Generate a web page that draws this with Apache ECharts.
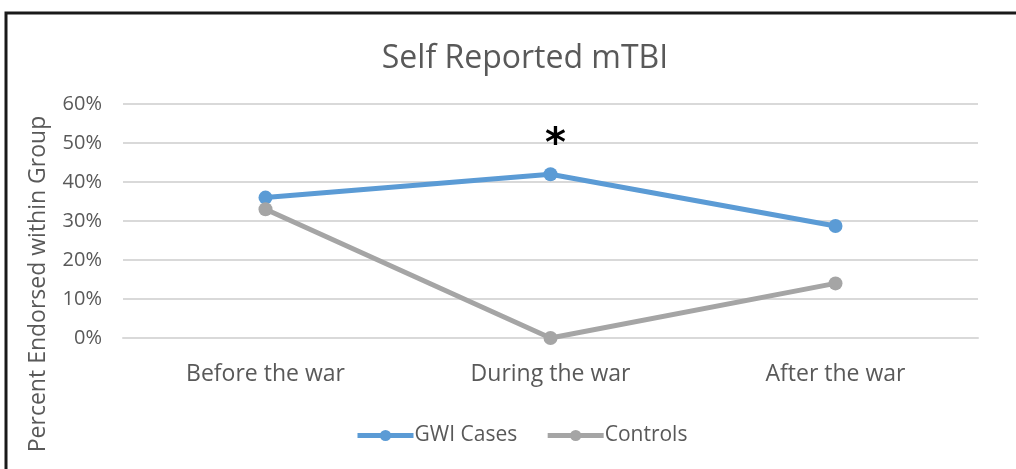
<!DOCTYPE html>
<html>
<head>
<meta charset="utf-8">
<script src="https://cdn.jsdelivr.net/npm/echarts@6/dist/echarts.min.js"></script>
<style>
  html, body { margin: 0; padding: 0; background: #fff; }
  #chart { width: 1016px; height: 469px; }
</style>
</head>
<body>
<div id="chart"></div>
<script>
var categories = ["Before the war", "During the war", "After the war"];
var gwiCases = [36, 42, 28.7];
var controls = [33, 0, 14];
var yTicks = [0, 10, 20, 30, 40, 50, 60];

var chartDom = document.getElementById("chart");
var myChart = echarts.init(chartDom);
var font = "'Open Sans', Lato, sans-serif";

var option = {
  animation: false,
  title: {
    text: "Self Reported mTBI",
    left: 520,
    top: 38,
    textAlign: "center",
    textStyle: { fontFamily: font, fontSize: 32, fontWeight: "normal", color: "#595959" }
  },
  graphic: [
    {
      type: "rect",
      shape: { x: 6, y: 13, width: 1030, height: 480 },
      style: { fill: "none", stroke: "#1a1a1a", lineWidth: 3 }
    },
    {
      type: "text",
      x: 38,
      y: 284,
      rotation: Math.PI / 2,
      style: {
        text: "Percent Endorsed within Group",
        fontFamily: font,
        fontSize: 23,
        fill: "#595959",
        align: "center",
        verticalAlign: "middle"
      }
    }
  ],
  legend: {
    bottom: 18,
    left: 350,
    itemWidth: 56,
    itemHeight: 14,
    itemGap: 28,
    lineStyle: { width: 5 },
    textStyle: { fontFamily: font, fontSize: 21, color: "#595959", padding: [0, 0, 0, -4] },
    data: ["GWI Cases", "Controls"]
  },
  grid: { left: 123, right: 38, top: 104, bottom: 131 },
  xAxis: {
    type: "category",
    data: categories,
    axisTick: { show: false },
    axisLine: { lineStyle: { color: "#d9d9d9", width: 2 } },
    axisLabel: { fontFamily: font, fontSize: 23, color: "#595959", margin: 25 }
  },
  yAxis: {
    type: "value",
    min: yTicks[0],
    max: yTicks[yTicks.length - 1],
    interval: 10,
    axisLine: { show: false },
    axisTick: { show: false },
    splitLine: { lineStyle: { color: "#d9d9d9", width: 2 } },
    axisLabel: {
      fontFamily: font,
      fontSize: 20,
      color: "#595959",
      margin: 21,
      formatter: function (v) { return v + "%"; }
    }
  },
  series: [
    {
      name: "GWI Cases",
      type: "line",
      data: gwiCases.map(function (v, i) {
        if (i === 1) {
          return {
            value: v,
            label: {
              show: true,
              formatter: "*",
              position: "top",
              distance: 2,
              offset: [5, 0],
              fontFamily: "'DejaVu Sans', sans-serif",
              fontSize: 40,
              fontWeight: "bold",
              color: "#000"
            }
          };
        }
        return v;
      }),
      symbol: "circle",
      symbolSize: 14,
      lineStyle: { width: 5, color: "#5b9bd5" },
      itemStyle: { color: "#5b9bd5" }
    },
    {
      name: "Controls",
      type: "line",
      data: controls,
      symbol: "circle",
      symbolSize: 14,
      lineStyle: { width: 5, color: "#a5a5a5" },
      itemStyle: { color: "#a5a5a5" }
    }
  ]
};

option && myChart.setOption(option);
</script>
</body>
</html>
